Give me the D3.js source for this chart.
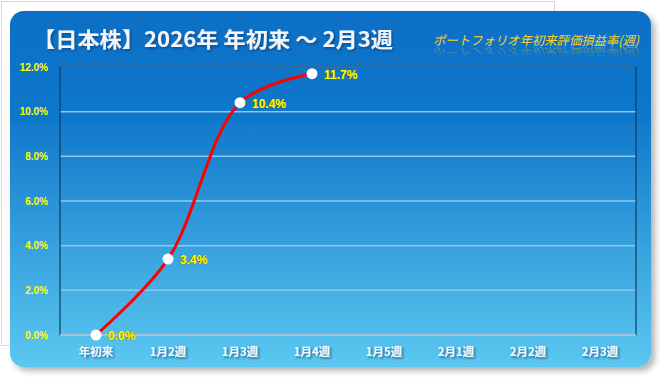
<!DOCTYPE html>
<html><head><meta charset="utf-8">
<script src="https://cdn.jsdelivr.net/npm/d3@7"></script>
<style>body{margin:0;background:#fff;}svg{display:block;}</style>
</head><body>
<script>
const categories = ["年初来","1月2週","1月3週","1月4週","1月5週","2月1週","2月2週","2月3週"];
const values = [0.0, 3.4, 10.4, 11.7];
const yTicks = [0, 2, 4, 6, 8, 10, 12];
const title = "【日本株】2026年 年初来 ～ 2月3週";
const subtitle = "ポートフォリオ年初来評価損益率(週)";

const W = 665, H = 384;
const svg = d3.select("body").append("svg").attr("width", W).attr("height", H);
const defs = svg.append("defs");

const bg = defs.append("linearGradient").attr("id","bg").attr("x1",0).attr("y1",0).attr("x2",0).attr("y2",1);
bg.append("stop").attr("offset","0%").attr("stop-color","#0a6fc6");
bg.append("stop").attr("offset","30%").attr("stop-color","#1078cb");
bg.append("stop").attr("offset","100%").attr("stop-color","#5cc8f0");

const sh = defs.append("filter").attr("id","shadow").attr("x","-5%").attr("y","-5%").attr("width","115%").attr("height","120%");
sh.append("feGaussianBlur").attr("in","SourceAlpha").attr("stdDeviation",3);
sh.append("feOffset").attr("dx",4).attr("dy",4).attr("result","b");
sh.append("feComponentTransfer").append("feFuncA").attr("type","linear").attr("slope",0.3);
const m = sh.append("feMerge"); m.append("feMergeNode"); m.append("feMergeNode").attr("in","SourceGraphic");

const ts = defs.append("filter").attr("id","tshadow").attr("x","-10%").attr("y","-30%").attr("width","130%").attr("height","180%");
ts.append("feDropShadow").attr("dx",1.5).attr("dy",1.5).attr("stdDeviation",1).attr("flood-color","#0a3a6a").attr("flood-opacity",0.7);

const rg = defs.append("linearGradient").attr("id","rg").attr("gradientUnits","userSpaceOnUse")
  .attr("x1",0).attr("y1",47).attr("x2",0).attr("y2",57);
rg.append("stop").attr("offset","0%").attr("stop-color","#fff").attr("stop-opacity",0.45);
rg.append("stop").attr("offset","100%").attr("stop-color","#fff").attr("stop-opacity",0);
defs.append("mask").attr("id","rmask").attr("maskUnits","userSpaceOnUse")
  .attr("x",0).attr("y",0).attr("width",W).attr("height",H)
  .append("rect").attr("x",420).attr("y",46).attr("width",240).attr("height",14).attr("fill","url(#rg)");

// faint outer frame
svg.append("rect").attr("x",1.5).attr("y",1.5).attr("width",553).attr("height",344)
  .attr("fill","none").attr("stroke","#d8d8d8").attr("stroke-width",1);

svg.append("rect").attr("x",10).attr("y",11).attr("width",641).attr("height",356)
  .attr("rx",14).attr("ry",14).attr("fill","url(#bg)").attr("filter","url(#shadow)");

// plot
const x = d3.scaleBand().domain(categories).range([60, 636]);
const y = d3.scaleLinear().domain([0, 12]).range([335, 67]);

const g = svg.append("g");
g.selectAll("line.grid").data(yTicks).join("line").attr("class","grid")
  .attr("x1",60).attr("x2",636).attr("y1",d=>y(d)).attr("y2",d=>y(d))
  .attr("stroke","#8cc8f0").attr("stroke-width",1.5);
g.append("rect").attr("x",60).attr("y",67).attr("width",576).attr("height",268)
  .attr("fill","none").attr("stroke","#0d3c66").attr("stroke-width",1.2);
g.append("line").attr("x1",60).attr("x2",636).attr("y1",335).attr("y2",335)
  .attr("stroke","#c8dce8").attr("stroke-width",1.5);

const yAxis = d3.axisLeft(y).tickValues(yTicks).tickFormat(d=>d.toFixed(1)+"%").tickSize(0).tickPadding(12);
const ya = svg.append("g").attr("transform","translate(60,0)").call(yAxis);
ya.select(".domain").remove();
ya.selectAll("text").attr("fill","#ffff00").attr("font-family","'Liberation Sans',Arial,sans-serif")
  .attr("font-size",10).attr("font-weight","bold");

const xAxis = d3.axisBottom(x).tickSize(0).tickPadding(13);
const xa = svg.append("g").attr("transform","translate(0,335)").call(xAxis);
xa.select(".domain").remove();
xa.selectAll("text").attr("fill","#f4f8fc").attr("font-family","'Noto Sans CJK JP',sans-serif")
  .attr("font-size",11.5).attr("font-weight","bold").attr("filter","url(#tshadow)");

const pts = values.map((v,i)=>[x(categories[i])+x.bandwidth()/2, y(v)]);
const line = d3.line().curve(d3.curveCatmullRom.alpha(0.5));
svg.append("path").attr("d", line(pts)).attr("fill","none").attr("stroke","#ff0000").attr("stroke-width",3);
svg.selectAll("circle.pt").data(pts).join("circle").attr("class","pt")
  .attr("cx",d=>d[0]).attr("cy",d=>d[1]).attr("r",5.5).attr("fill","#fff");
svg.selectAll("text.lbl").data(values).join("text").attr("class","lbl")
  .attr("x",(d,i)=>pts[i][0]+12).attr("y",(d,i)=>pts[i][1]+5)
  .text(d=>d.toFixed(1)+"%")
  .attr("fill","#ffff00").attr("stroke","#7a6a00").attr("stroke-width",0.7).attr("paint-order","stroke")
  .attr("font-family","'Liberation Sans',Arial,sans-serif").attr("font-size",12).attr("font-weight","bold");

// title
svg.append("text").attr("x",33).attr("y",47).text(title)
  .attr("fill","#f2f6fb").attr("font-family","'Noto Sans CJK JP',sans-serif")
  .attr("font-size",21).attr("font-weight","bold").attr("filter","url(#tshadow)")
  .attr("textLength",360).attr("lengthAdjust","spacingAndGlyphs");

// subtitle + reflection
function sub(sel){
  return sel.append("text").attr("x",433).attr("y",45).text(subtitle)
    .attr("fill","#ffd21a").attr("font-family","'Noto Sans CJK JP',sans-serif")
    .attr("font-size",12.5)
    .attr("transform","translate(433,45) skewX(-14) translate(-433,-45)")
    .attr("textLength",206).attr("lengthAdjust","spacingAndGlyphs");
}
sub(svg);
const rw = svg.append("g").attr("mask","url(#rmask)");
sub(rw.append("g").attr("transform","matrix(1,0,0,-1,0,93)"));
</script>
</body></html>
